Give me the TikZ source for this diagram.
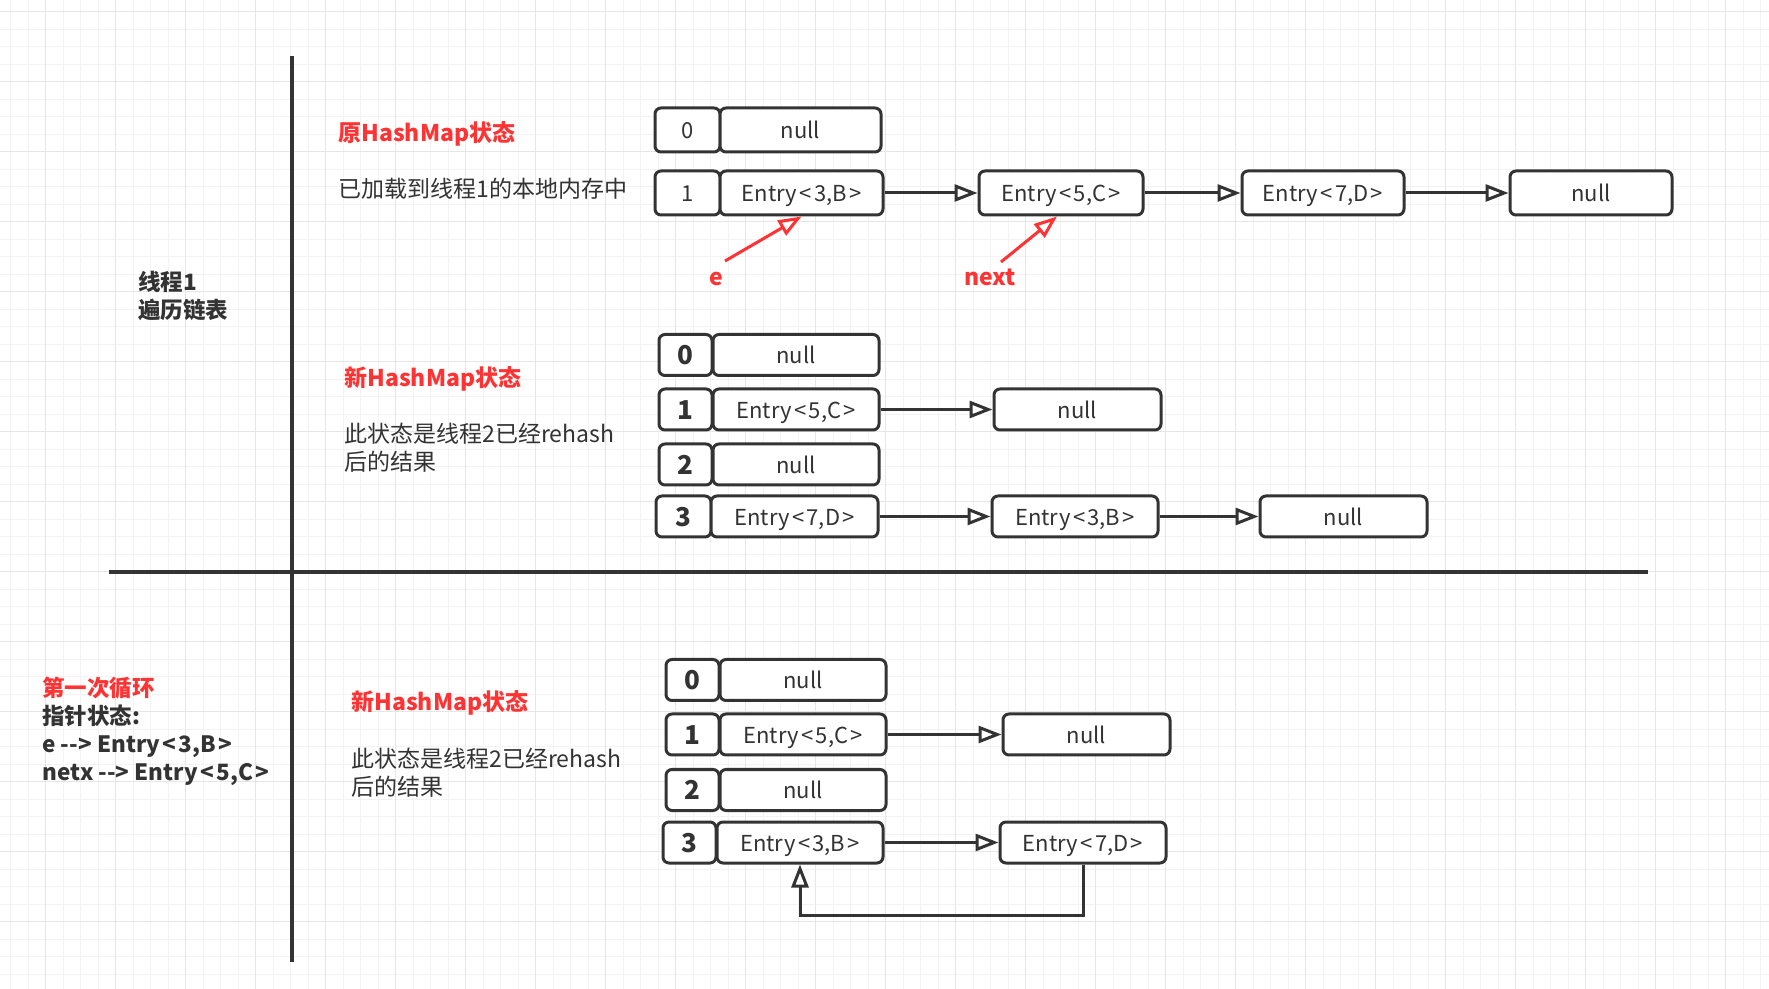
\documentclass[tikz,border=0pt]{standalone}
\usepackage{fontspec}
\setmainfont{Noto Sans CJK SC}
\usetikzlibrary{arrows.meta}
\definecolor{dk}{HTML}{333333}
\definecolor{rd}{HTML}{FF3333}
\definecolor{gmin}{HTML}{F3F3F3}
\definecolor{gmaj}{HTML}{E6E6E6}
\newcommand\ent[2]{Entry\kern0.12em<\kern0.1em#1,#2\kern0.1em>}
\begin{document}
\begin{tikzpicture}[x=0.5pt,y=-0.5pt,
  cell/.style={draw=dk, line width=1.5pt, rounded corners=3pt, fill=white, inner sep=0pt, text=dk, text height=0.86em, text depth=0pt, font=\fontsize{11pt}{13pt}\selectfont},
  topcell/.style={cell, minimum height=22pt},
  midcell/.style={cell, minimum height=20.5pt},
  bidx/.style={midcell, text height=0.98em, font=\fontsize{13pt}{15pt}\selectfont\bfseries},
  link/.style={draw=dk, line width=1.5pt, -{Triangle[open,length=11.5pt,width=8.5pt,fill=white]}},
  redlink/.style={draw=rd, line width=1.5pt, -{Triangle[open,length=11.5pt,width=8.5pt,fill=white]}},
  divider/.style={draw=dk, line width=1.6pt},
  title/.style={anchor=west, inner sep=0pt, text=rd, font=\fontsize{11.5pt}{14pt}\selectfont\bfseries},
  body/.style={anchor=west, inner sep=0pt, text=dk, align=left, font=\fontsize{11.5pt}{14pt}\selectfont},
  boldbody/.style={anchor=west, inner sep=0pt, text=dk, align=left, font=\fontsize{11.25pt}{14pt}\selectfont\bfseries},
  ptr/.style={text=rd, font=\fontsize{11.5pt}{13pt}\selectfont\bfseries}
]
\useasboundingbox (0,0) rectangle (1769,989);
\fill[white] (0,0) rectangle (1769,989);
% grid
\foreach \i in {0,...,101} {\draw[gmin, line width=0.6pt] ({10.7+17.5*\i},0) -- ({10.7+17.5*\i},989);}
\foreach \i in {0,...,56} {\draw[gmin, line width=0.6pt] (0,{11.7+17.5*\i}) -- (1769,{11.7+17.5*\i});}
\foreach \i in {0,...,25} {\draw[gmaj, line width=0.6pt] ({45.7+70*\i},0) -- ({45.7+70*\i},989);}
\foreach \i in {0,...,14} {\draw[gmaj, line width=0.6pt] (0,{11.7+70*\i}) -- (1769,{11.7+70*\i});}

% dividers
\coordinate (vtop) at (292,56);
\coordinate (vbot) at (292,962);
\coordinate (hl) at (109,572);
\coordinate (hr) at (1648,572);
\draw[divider] (vtop) -- (vbot);
\draw[divider] (hl) -- (hr);

% ---------- top section ----------
\node[title] (tTitle) at (338,134) {原HashMap状态};
\node[body] (tDesc) at (338,189) {已加载到线程1的本地内存中};
\node[boldbody] (thread) at (138,295.5) {线程1\\遍历链表};

\node[topcell, minimum width=32.5pt] (t0i) at (687.5,130) {0};
\node[topcell, minimum width=80.5pt] (t0v) at (800.5,130) {null};
\node[topcell, minimum width=32.5pt] (t1i) at (687.5,193) {1};
\node[topcell, minimum width=81.5pt] (t1v) at (801.5,193) {\ent{3}{B}};
\node[topcell, minimum width=82pt] (t1b) at (1061,193) {\ent{5}{C}};
\node[topcell, minimum width=81pt] (t1c) at (1323,193) {\ent{7}{D}};
\node[topcell, minimum width=81pt] (t1d) at (1591,193) {null};
\draw[link] (t1v) -- (t1b);
\draw[link] (t1b) -- (t1c);
\draw[link] (t1c) -- (t1d);

\coordinate (eTail) at (725,261);
\coordinate (nTail) at (1001,262);
\draw[redlink] (eTail) -- (t1v.south);
\draw[redlink] (nTail) -- ([xshift=-2pt]t1b.south);
\node[ptr] (eLab) at (716,279) {e};
\node[ptr] (nLab) at (990,277) {next};

% ---------- middle section ----------
\node[title] (mTitle) at (344,379) {新HashMap状态};
\node[body] (mDesc) at (344,448) {此状态是线程2已经rehash\\后的结果};

\node[bidx, minimum width=26.5pt] (m0i) at (685.5,355) {0};
\node[midcell, minimum width=83pt] (m0v) at (796,355) {null};
\node[bidx, minimum width=26.5pt] (m1i) at (685.5,409.5) {1};
\node[midcell, minimum width=83pt] (m1v) at (796,409.5) {\ent{5}{C}};
\node[midcell, minimum width=83.5pt] (m1b) at (1077.5,409.5) {null};
\node[bidx, minimum width=26.5pt] (m2i) at (685.5,464.5) {2};
\node[midcell, minimum width=83pt] (m2v) at (796,464.5) {null};
\node[bidx, minimum width=27.5pt] (m3i) at (683.5,516.5) {3};
\node[midcell, minimum width=83.5pt] (m3v) at (794.5,516.5) {\ent{7}{D}};
\node[midcell, minimum width=83pt] (m3b) at (1075,516.5) {\ent{3}{B}};
\node[midcell, minimum width=83.5pt] (m3c) at (1343.5,516.5) {null};
\draw[link] (m1v) -- (m1b);
\draw[link] (m3v) -- (m3b);
\draw[link] (m3b) -- (m3c);

% ---------- bottom section ----------
\node[boldbody, anchor=north west] (loopTxt) at (42,677) {\textcolor{rd}{第一次循环}\\指针状态:\\e -{}-> \ent{3}{B}\\netx -{}-> \ent{5}{C}};
\node[title] (bTitle) at (351,703) {新HashMap状态};
\node[body] (bDesc) at (351,773) {此状态是线程2已经rehash\\后的结果};

\node[bidx, minimum width=26.5pt] (b0i) at (692.5,680) {0};
\node[midcell, minimum width=83pt] (b0v) at (803,680) {null};
\node[bidx, minimum width=26.5pt] (b1i) at (692.5,734.5) {1};
\node[midcell, minimum width=83pt] (b1v) at (803,734.5) {\ent{5}{C}};
\node[midcell, minimum width=83.5pt] (b1b) at (1086.5,734.5) {null};
\node[bidx, minimum width=26.5pt] (b2i) at (692.5,790) {2};
\node[midcell, minimum width=83pt] (b2v) at (803,790) {null};
\node[bidx, minimum width=26.5pt] (b3i) at (689.5,842.5) {3};
\node[midcell, minimum width=83pt] (b3v) at (800,842.5) {\ent{3}{B}};
\node[midcell, minimum width=83pt] (b3b) at (1083,842.5) {\ent{7}{D}};
\draw[link] (b1v) -- (b1b);
\draw[link] (b3v) -- (b3b);
\draw[link] (b3b.south) -- ++(0,51) -| (b3v.south);
\end{tikzpicture}
\end{document}
